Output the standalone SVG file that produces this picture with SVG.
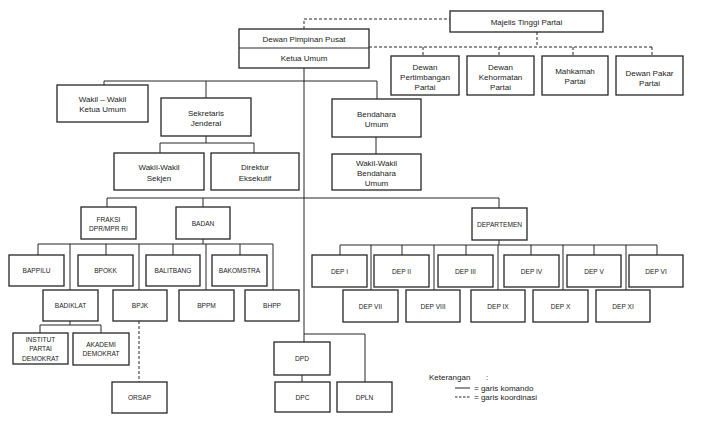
<svg xmlns="http://www.w3.org/2000/svg" width="710" height="421" viewBox="0 0 710 421">
<style>
.b{fill:#fff;stroke:#262626;stroke-width:1.3}
.t{font-family:"Liberation Sans",Arial,sans-serif;font-size:8px;fill:#222;text-anchor:middle}
.c{font-size:6.6px}
.l{fill:none;stroke:#262626;stroke-width:1}
.d{fill:none;stroke:#262626;stroke-width:1;stroke-dasharray:3,2}
</style>
<rect width="710" height="421" fill="#fff"/>
<g id="connectors">
<path class="d" d="M304,29V19H450M537,32V47M369,47H652M423,47V56M499,47V56M573,47V56M652,47V56"/>
<path class="l" d="M304,68V342M104,81H377M104,81V85M206,81V98M377,81V99"/>
<path class="l" d="M206,136V143M160,143H254M160,143V153M254,143V153M376,137V154"/>
<path class="l" d="M107,198H499M107,198V207M203,198V207M499,198V208"/>
<path class="l" d="M203,239V244M38,244H273M38,244V255M70,244V290M106,244V255M139,244V290M173,244V255M206,244V290M240,244V255M273,244V290"/>
<path class="l" d="M70,321V325M40,325H101M40,325V333M101,325V333"/>
<path class="d" d="M139,321V382"/>
<path class="l" d="M499,240V245M340,245H657M340,245V255M402,245V255M466,245V255M531,245V255M594,245V255M657,245V255M371,245V290M434,245V290M498,245V290M563,245V290M626,245V290"/>
<path class="l" d="M304,334H365V382M302,375V382"/>
</g>
<g id="majelis"><rect class="b" x="450" y="11" width="153" height="21"/><text class="t" x="526.5" y="24.5">Majelis Tinggi Partai</text></g>
<g id="dpp"><rect class="b" x="239" y="29" width="130" height="39"/><path class="l" d="M239,48H369"/><text class="t" x="304" y="41.5">Dewan Pimpinan Pusat</text><text class="t" x="304" y="61">Ketua Umum</text></g>
<g id="pertimbangan"><rect class="b" x="391" y="56" width="68" height="39"/><text class="t" x="425" y="69.5">Dewan</text><text class="t" x="425" y="79.5">Pertimbangan</text><text class="t" x="425" y="89.5">Partai</text></g>
<g id="kehormatan"><rect class="b" x="467" y="56" width="67" height="39"/><text class="t" x="500.5" y="69.5">Dewan</text><text class="t" x="500.5" y="79.5">Kehormatan</text><text class="t" x="500.5" y="89.5">Partai</text></g>
<g id="mahkamah"><rect class="b" x="542" y="56" width="66" height="39"/><text class="t" x="575" y="73.5">Mahkamah</text><text class="t" x="575" y="83.5">Partai</text></g>
<g id="pakar"><rect class="b" x="616" y="56" width="67" height="39"/><text class="t" x="649.5" y="75.5">Dewan Pakar</text><text class="t" x="649.5" y="85.5">Partai</text></g>
<g id="wakilketua"><rect class="b" x="57" y="85" width="91" height="37"/><text class="t" x="102.5" y="102">Wakil – Wakil</text><text class="t" x="102.5" y="112">Ketua Umum</text></g>
<g id="sekjen"><rect class="b" x="161" y="98" width="90" height="38"/><text class="t" x="206" y="116">Sekretaris</text><text class="t" x="206" y="126">Jenderal</text></g>
<g id="bendahara"><rect class="b" x="332" y="99" width="89" height="38"/><text class="t" x="376.5" y="117">Bendahara</text><text class="t" x="376.5" y="127">Umum</text></g>
<g id="wakilsekjen"><rect class="b" x="114" y="153" width="90" height="37"/><text class="t" x="159" y="170">Wakil-Wakil</text><text class="t" x="159" y="181">Sekjen</text></g>
<g id="direktur"><rect class="b" x="211" y="153" width="88" height="37"/><text class="t" x="255" y="170">Direktur</text><text class="t" x="255" y="181">Eksekutif</text></g>
<g id="wakilbendahara"><rect class="b" x="332" y="154" width="89" height="36"/><text class="t" x="376.5" y="166">Wakil-Wakil</text><text class="t" x="376.5" y="176">Bendahara</text><text class="t" x="376.5" y="186">Umum</text></g>
<g id="fraksi"><rect class="b" x="81" y="207" width="55" height="32"/><text class="t c" x="108.5" y="221.5">FRAKSI</text><text class="t c" x="108.5" y="231">DPR/MPR RI</text></g>
<g id="badan"><rect class="b" x="176" y="207" width="54" height="32"/><text class="t c" x="203" y="225.5">BADAN</text></g>
<g id="bappilu"><rect class="b" x="9" y="255" width="55" height="31"/><text class="t c" x="36.5" y="273">BAPPILU</text></g>
<g id="bpokk"><rect class="b" x="78" y="255" width="55" height="31"/><text class="t c" x="105.5" y="273">BPOKK</text></g>
<g id="balitbang"><rect class="b" x="146" y="255" width="54" height="31"/><text class="t c" x="173" y="273">BALITBANG</text></g>
<g id="bakomstra"><rect class="b" x="212" y="255" width="55" height="31"/><text class="t c" x="239.5" y="273">BAKOMSTRA</text></g>
<g id="badiklat"><rect class="b" x="43" y="290" width="55" height="31"/><text class="t c" x="70.5" y="307.5">BADIKLAT</text></g>
<g id="bpjk"><rect class="b" x="113" y="290" width="54" height="31"/><text class="t c" x="140" y="307.5">BPJK</text></g>
<g id="bppm"><rect class="b" x="179" y="290" width="55" height="31"/><text class="t c" x="206.5" y="307.5">BPPM</text></g>
<g id="bhpp"><rect class="b" x="245" y="290" width="54" height="31"/><text class="t c" x="272" y="307.5">BHPP</text></g>
<g id="institut"><rect class="b" x="13" y="333" width="55" height="31"/><text class="t c" x="40.5" y="341.5">INSTITUT</text><text class="t c" x="40.5" y="351">PARTAI</text><text class="t c" x="40.5" y="360.5">DEMOKRAT</text></g>
<g id="akademi"><rect class="b" x="73" y="333" width="56" height="32"/><text class="t c" x="101" y="346.5">AKADEMI</text><text class="t c" x="101" y="356">DEMOKRAT</text></g>
<g id="orsap"><rect class="b" x="112" y="382" width="55" height="31"/><text class="t c" x="139.5" y="400">ORSAP</text></g>
<g id="dpd"><rect class="b" x="274" y="342" width="56" height="33"/><text class="t c" x="302" y="361">DPD</text></g>
<g id="dpc"><rect class="b" x="275" y="382" width="55" height="30"/><text class="t c" x="302.5" y="399.5">DPC</text></g>
<g id="dpln"><rect class="b" x="337" y="382" width="55" height="30"/><text class="t c" x="364.5" y="399.5">DPLN</text></g>
<g id="departemen"><rect class="b" x="472" y="208" width="55" height="32"/><text class="t c" x="499.5" y="226.5">DEPARTEMEN</text></g>
<g id="dep1"><rect class="b" x="312" y="255" width="55" height="32"/><text class="t c" x="339.5" y="273.5">DEP I</text></g>
<g id="dep2"><rect class="b" x="374" y="255" width="55" height="32"/><text class="t c" x="401.5" y="273.5">DEP II</text></g>
<g id="dep3"><rect class="b" x="438" y="255" width="55" height="32"/><text class="t c" x="465.5" y="273.5">DEP III</text></g>
<g id="dep4"><rect class="b" x="504" y="255" width="55" height="32"/><text class="t c" x="531.5" y="273.5">DEP IV</text></g>
<g id="dep5"><rect class="b" x="567" y="255" width="54" height="32"/><text class="t c" x="594" y="273.5">DEP V</text></g>
<g id="dep6"><rect class="b" x="629" y="255" width="54" height="32"/><text class="t c" x="656" y="273.5">DEP VI</text></g>
<g id="dep7"><rect class="b" x="343" y="290" width="55" height="32"/><text class="t c" x="370.5" y="308.5">DEP VII</text></g>
<g id="dep8"><rect class="b" x="406" y="290" width="54" height="32"/><text class="t c" x="433" y="308.5">DEP VIII</text></g>
<g id="dep9"><rect class="b" x="471" y="290" width="54" height="32"/><text class="t c" x="498" y="308.5">DEP IX</text></g>
<g id="dep10"><rect class="b" x="533" y="290" width="55" height="32"/><text class="t c" x="560.5" y="308.5">DEP X</text></g>
<g id="dep11"><rect class="b" x="596" y="290" width="54" height="32"/><text class="t c" x="623" y="308.5">DEP XI</text></g>
<g id="legend">
<text class="t" style="text-anchor:start" x="429" y="380">Keterangan</text>
<text class="t" style="text-anchor:start" x="486" y="380">:</text>
<path class="l" d="M455,388H470"/>
<path class="l" style="stroke-dasharray:2.5,1.5" d="M455,397H470"/>
<text class="t" style="text-anchor:start" x="474" y="391">= garis komando</text>
<text class="t" style="text-anchor:start" x="474" y="400">= garis koordinasi</text>
</g>
</svg>
